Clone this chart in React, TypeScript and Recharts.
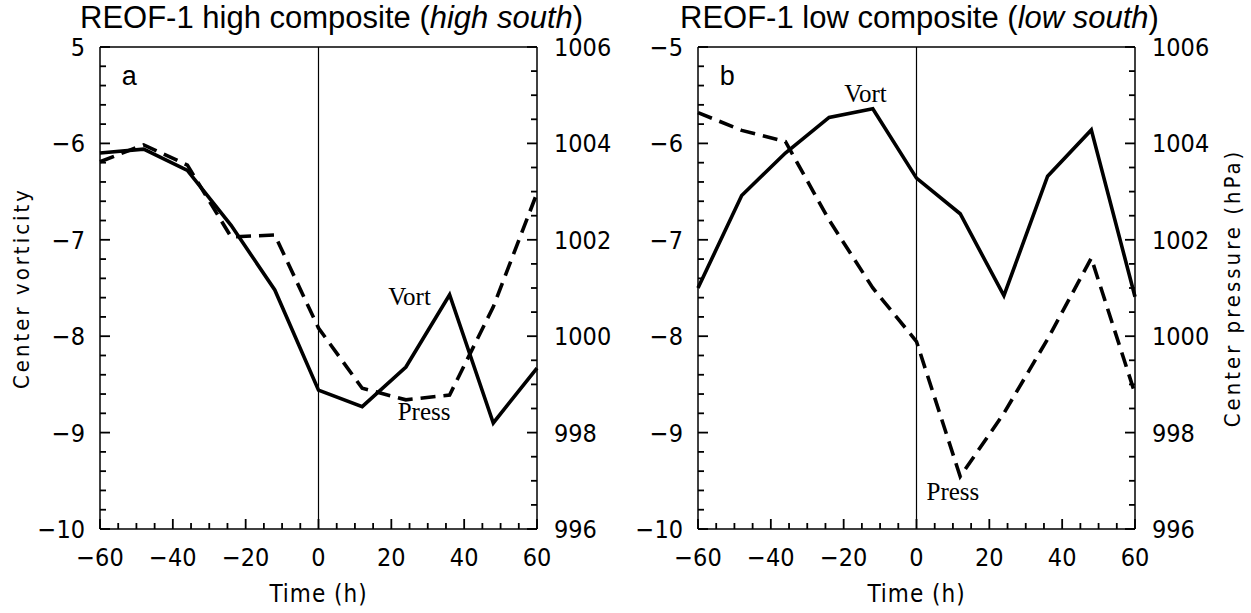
import { LineChart, Line, XAxis, YAxis, ReferenceLine, ReferenceDot } from 'recharts';

// time axis (h) and the four composite series
const hours = [-60, -48, -36, -24, -12, 0, 12, 24, 36, 48, 60];
const vortHigh = [-6.1, -6.06, -6.28, -6.85, -7.52, -8.56, -8.73, -8.32, -7.57, -8.9, -8.33];
const pressHigh = [1003.62, 1003.97, 1003.55, 1002.06, 1002.1, 1000.17, 998.92, 998.68, 998.78, 1000.61, 1002.97];
const vortLow = [-7.5, -6.54, -6.1, -5.73, -5.64, -6.36, -6.73, -7.58, -6.34, -5.86, -7.59];
const pressLow = [1004.64, 1004.27, 1004.04, 1002.41, 1001.0, 999.89, 997.09, 998.4, 999.94, 1001.62, 998.81];

const timeLabels = [-60, -40, -20, 0, 20, 40, 60];
const vortLabels = [-5, -6, -7, -8, -9, -10];
const pressLabels = [996, 998, 1000, 1002, 1004, 1006];

const NARROW = '"Liberation Sans Narrow", "DejaVu Sans Condensed", "Liberation Sans", sans-serif';
const SANS = '"Liberation Sans", Arial, sans-serif';
const SERIF = '"Liberation Serif", "Times New Roman", serif';

const range = (a: number, b: number, step: number) => {
  const out: number[] = [];
  for (let v = a; v <= b + 1e-9; v += step) out.push(Math.round(v * 100) / 100);
  return out;
};

// minor tick positions
const timeTicks = range(-60, 60, 5);
const vortTicks = range(-10, -5, 0.2);
const pressTicks = range(996, 1006, 0.5);

const PLOT_W = 437;
const PLOT_H = 482;
// inward tick lengths (px) turned into data units of each axis
const hPerPx = 120 / PLOT_W;
const vPerPx = 5 / PLOT_H;

const isMajor = (labels: number[], v: number) => labels.some((l) => Math.abs(l - v) < 1e-6);
const tickLen = (labels: number[], v: number) => (isMajor(labels, v) ? 10 : 6);

const minus = (v: number) => String(v).replace('-', '\u2212');

type Orient = 'bottom' | 'left' | 'right';

function makeLabel(orient: Orient, fmt: (v: number) => string) {
  return function TickLabel(props: any) {
    const x = Number(props.x);
    const y = Number(props.y);
    const v = Number(props.payload.value);
    const ts = { fontFamily: NARROW, fontSize: 25, fill: '#000' };
    if (orient === 'bottom')
      return (
        <text x={x} y={y + 37} textAnchor="middle" {...ts}>
          {fmt(v)}
        </text>
      );
    if (orient === 'left')
      return (
        <text x={x - 15} y={y + 9} textAnchor="end" {...ts}>
          {fmt(v)}
        </text>
      );
    return (
      <text x={x + 17} y={y + 9} textAnchor="start" {...ts}>
        {fmt(v)}
      </text>
    );
  };
}

const textMark = (txt: string, font: string, size: number, anchor: 'start' | 'middle') =>
  function Mark(p: any) {
    return (
      <text x={p.cx} y={p.cy} textAnchor={anchor} fontFamily={font} fontSize={size} fill="#000">
        {txt}
      </text>
    );
  };

const frameLine = { stroke: '#000', strokeWidth: 1.5 };

interface PanelProps {
  vort: number[];
  press: number[];
  letter: string;
  topLabel: string;
  showLeftTitle: boolean;
  showRightTitle: boolean;
  margin: { top: number; right: number; bottom: number; left: number };
  width: number;
  vortNote: [number, number];
  pressNote: [number, number];
}

function Panel(props: PanelProps) {
  const { vort, press, letter, topLabel, showLeftTitle, showRightTitle, margin, width, vortNote, pressNote } = props;
  const data = hours.map((t, i) => ({ t, vort: vort[i], press: press[i] }));

  return (
    <LineChart width={width} height={613} data={data} margin={margin}>
      <XAxis
        type="number"
        dataKey="t"
        domain={[-60, 60]}
        ticks={timeLabels}
        interval={0}
        tickSize={0}
        tickMargin={0}
        axisLine={frameLine}
        stroke="#000"
        tickLine={false}
        height={60}
        tick={makeLabel('bottom', minus)}
        label={(p: any) => (
          <text
            x={p.viewBox.x + p.viewBox.width / 2}
            y={p.viewBox.y + 73}
            textAnchor="middle"
            fontFamily={NARROW}
            fontSize={24}
            letterSpacing={1}
          >
            Time  (h)
          </text>
        )}
      />
      <YAxis
        yAxisId="v"
        type="number"
        domain={[-10, -5]}
        ticks={vortLabels}
        interval={0}
        tickSize={0}
        tickMargin={0}
        axisLine={frameLine}
        stroke="#000"
        tickLine={false}
        width={60}
        tick={makeLabel('left', (v) => (v === -5 ? topLabel : minus(v)))}
        label={
          showLeftTitle
            ? (p: any) => {
                const cx = p.viewBox.x - 19;
                const cy = p.viewBox.y + p.viewBox.height / 2;
                return (
                  <text
                    x={cx}
                    y={cy}
                    transform={`rotate(-90 ${cx} ${cy})`}
                    textAnchor="middle"
                    dominantBaseline="central"
                    fontFamily={NARROW}
                    fontSize={22}
                    letterSpacing={3}
                  >
                    Center vorticity
                  </text>
                );
              }
            : undefined
        }
      />
      <YAxis
        yAxisId="p"
        orientation="right"
        type="number"
        domain={[996, 1006]}
        ticks={pressLabels}
        interval={0}
        tickSize={0}
        tickMargin={0}
        axisLine={frameLine}
        stroke="#000"
        tickLine={false}
        width={60}
        tick={makeLabel('right', String)}
        label={
          showRightTitle
            ? (p: any) => {
                const cx = p.viewBox.x + 97;
                const cy = p.viewBox.y + p.viewBox.height / 2;
                return (
                  <text
                    x={cx}
                    y={cy}
                    transform={`rotate(-90 ${cx} ${cy})`}
                    textAnchor="middle"
                    dominantBaseline="central"
                    fontFamily={NARROW}
                    fontSize={22}
                    letterSpacing={3}
                  >
                    Center pressure  (hPa)
                  </text>
                );
              }
            : undefined
        }
      />

      {/* inward tick marks */}
      {timeTicks.map((t) => (
        <ReferenceLine
          key={`tt${t}`}
          yAxisId="v"
          ifOverflow="visible"
          segment={[{ x: t, y: -10 }, { x: t, y: -10 + tickLen(timeLabels, t) * vPerPx }]}
          stroke="#000"
          strokeWidth={1.8}
        />
      ))}
      {vortTicks.map((v) => (
        <ReferenceLine
          key={`vt${v}`}
          yAxisId="v"
          ifOverflow="visible"
          segment={[{ x: -60, y: v }, { x: -60 + tickLen(vortLabels, v) * hPerPx, y: v }]}
          stroke="#000"
          strokeWidth={1.8}
        />
      ))}
      {pressTicks.map((p) => (
        <ReferenceLine
          key={`pt${p}`}
          yAxisId="p"
          ifOverflow="visible"
          segment={[{ x: 60, y: p }, { x: 60 - tickLen(pressLabels, p) * hPerPx, y: p }]}
          stroke="#000"
          strokeWidth={1.8}
        />
      ))}

      <ReferenceLine yAxisId="v" y={-5} stroke="#000" strokeWidth={1.5} />
      <ReferenceLine yAxisId="v" x={0} stroke="#000" strokeWidth={1.2} />
      <Line
        yAxisId="v"
        dataKey="vort"
        stroke="#000"
        strokeWidth={3.6}
        dot={false}
        type="linear"
        isAnimationActive={false}
      />
      <Line
        yAxisId="p"
        dataKey="press"
        stroke="#000"
        strokeWidth={3.6}
        strokeDasharray="15 8"
        dot={false}
        type="linear"
        isAnimationActive={false}
      />
      <ReferenceDot yAxisId="v" x={-54} y={-5.39} r={0} shape={textMark(letter, SANS, 27, 'start')} />
      <ReferenceDot yAxisId="v" x={vortNote[0]} y={vortNote[1]} r={0} shape={textMark('Vort', SERIF, 25, 'middle')} />
      <ReferenceDot yAxisId="v" x={pressNote[0]} y={pressNote[1]} r={0} shape={textMark('Press', SERIF, 25, 'middle')} />
    </LineChart>
  );
}

const titleStyle: React.CSSProperties = {
  position: 'absolute',
  top: 0,
  fontFamily: SANS,
  fontSize: 31,
  lineHeight: '36px',
  color: '#000',
  whiteSpace: 'nowrap',
};

export default function App() {
  return (
    <div style={{ position: 'absolute', left: 0, top: 0, width: 1251, height: 613, background: '#fff' }}>
      <div style={{ position: 'absolute', left: 0, top: 0 }}>
        <Panel
          vort={vortHigh}
          press={pressHigh}
          letter="a"
          topLabel="5"
          showLeftTitle
          showRightTitle={false}
          width={620}
          margin={{ top: 47, right: 23, bottom: 24, left: 40 }}
          vortNote={[25, -7.68]}
          pressNote={[29, -8.87]}
        />
      </div>
      <div style={{ position: 'absolute', left: 620, top: 0 }}>
        <Panel
          vort={vortLow}
          press={pressLow}
          letter="b"
          topLabel={'\u22125'}
          showLeftTitle={false}
          showRightTitle
          width={631}
          margin={{ top: 47, right: 56, bottom: 24, left: 18 }}
          vortNote={[-14, -5.57]}
          pressNote={[10, -9.7]}
        />
      </div>
      <div style={{ ...titleStyle, left: 80 }}>
        REOF-1 high composite (<i>high south</i>)
      </div>
      <div style={{ ...titleStyle, left: 680 }}>
        REOF-1 low composite (<i>low south</i>)
      </div>
    </div>
  );
}
